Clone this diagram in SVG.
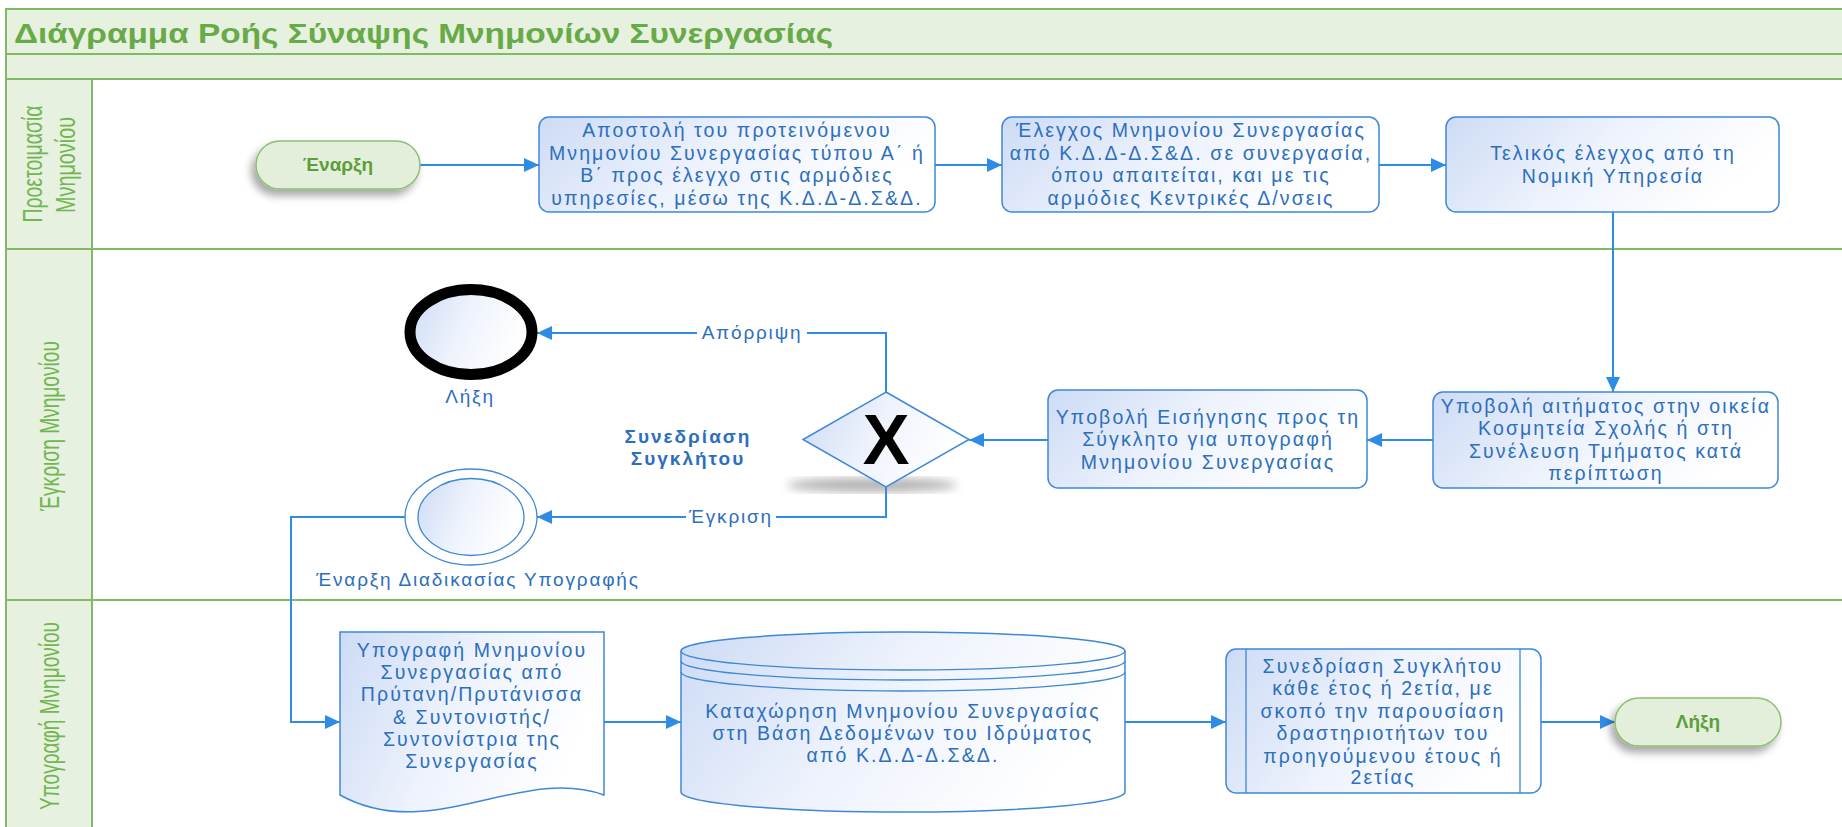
<svg xmlns="http://www.w3.org/2000/svg" width="1842" height="827" viewBox="0 0 1842 827">
<style>
.frame{fill:none;stroke:#82b866;stroke-width:2}
.title{font-family:"Liberation Sans",Arial,sans-serif;font-weight:bold;font-size:28px;fill:#67aa47}
.lane{font-family:"Liberation Sans",Arial,sans-serif;font-size:27px;fill:#72b551}
.box{fill:url(#boxg);stroke:#3f88d6;stroke-width:1.5}
.t{font-family:"Liberation Sans",Arial,sans-serif;font-size:19.5px;fill:#2c6fbd;text-anchor:middle;letter-spacing:2.1px}
.tb{font-family:"Liberation Sans",Arial,sans-serif;font-size:19px;font-weight:bold;fill:#2c6fbd;text-anchor:middle;letter-spacing:2px}
.term{fill:#e3efda;stroke:#8cbf72;stroke-width:1.5}
.termt{font-family:"Liberation Sans",Arial,sans-serif;font-size:19px;font-weight:bold;fill:#5c9d3c;text-anchor:middle}
.conn{fill:none;stroke:#2f8ce6;stroke-width:2}
.lbl{font-family:"Liberation Sans",Arial,sans-serif;font-size:19px;fill:#2c6fbd;text-anchor:middle;letter-spacing:1.8px}
</style>
<defs>
<linearGradient id="boxg" x1="0" y1="0" x2="1" y2="0.3">
<stop offset="0" stop-color="#ccdbf5"/>
<stop offset="0.5" stop-color="#edf2fc"/>
<stop offset="1" stop-color="#ffffff"/>
</linearGradient>
<filter id="sh" x="-20%" y="-30%" width="140%" height="180%">
<feGaussianBlur in="SourceAlpha" stdDeviation="4"/>
<feOffset dx="-4" dy="6" result="b"/>
<feComponentTransfer><feFuncA type="linear" slope="0.35"/></feComponentTransfer>
<feMerge><feMergeNode/><feMergeNode in="SourceGraphic"/></feMerge>
</filter>
<filter id="blur"><feGaussianBlur stdDeviation="5"/></filter>
<marker id="arr" markerUnits="userSpaceOnUse" markerWidth="16" markerHeight="14" refX="15" refY="7" orient="auto">
<path d="M0,0 L15,7 L0,14 z" fill="#2f8ce6"/>
</marker>
</defs>

<g id="pool">
<rect x="6" y="9" width="1850" height="45" fill="#e6f1df" stroke="#82b866" stroke-width="2"/>
<rect x="6" y="54" width="1850" height="25" fill="#e6f1df" stroke="#82b866" stroke-width="2"/>
<rect x="6" y="79" width="86" height="760" fill="#e6f1df" stroke="#82b866" stroke-width="2"/>
<rect x="6" y="9" width="1850" height="830" class="frame"/>
<line x1="6" y1="249" x2="1856" y2="249" class="frame"/>
<line x1="6" y1="600" x2="1856" y2="600" class="frame"/>
<text class="title" x="14" y="43" textLength="819" lengthAdjust="spacingAndGlyphs">Διάγραμμα Ροής Σύναψης Μνημονίων Συνεργασίας</text>
</g>

<g id="lane1-label">
<text class="lane" transform="translate(42,164) rotate(-90)" text-anchor="middle" textLength="117" lengthAdjust="spacingAndGlyphs">Προετοιμασία</text>
<text class="lane" transform="translate(75,165) rotate(-90)" text-anchor="middle" textLength="96" lengthAdjust="spacingAndGlyphs">Μνημονίου</text>
</g>
<g id="lane2-label">
<text class="lane" transform="translate(59,426) rotate(-90)" text-anchor="middle" textLength="170" lengthAdjust="spacingAndGlyphs">Έγκριση Μνημονίου</text>
</g>
<g id="lane3-label">
<text class="lane" transform="translate(59,716) rotate(-90)" text-anchor="middle" textLength="188" lengthAdjust="spacingAndGlyphs">Υπογραφή Μνημονίου</text>
</g>

<g id="connectors">
<path class="conn" d="M420,165 H539" marker-end="url(#arr)"/>
<path class="conn" d="M935,165 H1002" marker-end="url(#arr)"/>
<path class="conn" d="M1379,165 H1446" marker-end="url(#arr)"/>
<path class="conn" d="M1613,212 V392" marker-end="url(#arr)"/>
<path class="conn" d="M1433,440 H1367" marker-end="url(#arr)"/>
<path class="conn" d="M1048,440 H969" marker-end="url(#arr)"/>
<path class="conn" d="M886,392 V333 H537" marker-end="url(#arr)"/>
<path class="conn" d="M886,487 V517 H537" marker-end="url(#arr)"/>
<path class="conn" d="M405,517 H291 V722 H340" marker-end="url(#arr)"/>
<path class="conn" d="M604,722 H681" marker-end="url(#arr)"/>
<path class="conn" d="M1125,722 H1226" marker-end="url(#arr)"/>
<path class="conn" d="M1541,722 H1615" marker-end="url(#arr)"/>
<rect x="697" y="322" width="110" height="22" fill="#ffffff"/>
<text class="lbl" x="752" y="339">Απόρριψη</text>
<rect x="686" y="506" width="90" height="22" fill="#ffffff"/>
<text class="lbl" x="731" y="523">Έγκριση</text>
</g>

<g id="start">
<rect x="256" y="141" width="164" height="48" rx="24" class="term" filter="url(#sh)"/>
<text class="termt" x="338" y="171">Έναρξη</text>
</g>

<g id="send">
<rect x="539" y="117" width="396" height="95" rx="10" class="box"/>
<text class="t" x="737" y="137">Αποστολή του προτεινόμενου</text>
<text class="t" x="737" y="160">Μνημονίου Συνεργασίας τύπου Α΄ ή</text>
<text class="t" x="737" y="182">Β΄ προς έλεγχο στις αρμόδιες</text>
<text class="t" x="737" y="205">υπηρεσίες, μέσω της Κ.Δ.Δ-Δ.Σ&amp;Δ.</text>
</g>

<g id="check">
<rect x="1002" y="117" width="377" height="95" rx="10" class="box"/>
<text class="t" x="1191" y="137">Έλεγχος Μνημονίου Συνεργασίας</text>
<text class="t" x="1191" y="160">από Κ.Δ.Δ-Δ.Σ&amp;Δ. σε συνεργασία,</text>
<text class="t" x="1191" y="182">όπου απαιτείται, και με τις</text>
<text class="t" x="1191" y="205">αρμόδιες Κεντρικές Δ/νσεις</text>
</g>

<g id="legal">
<rect x="1446" y="117" width="333" height="95" rx="10" class="box"/>
<text class="t" x="1613" y="160">Τελικός έλεγχος από τη</text>
<text class="t" x="1613" y="183">Νομική Υπηρεσία</text>
</g>

<g id="request">
<rect x="1433" y="392" width="345" height="96" rx="10" class="box"/>
<text class="t" x="1606" y="413">Υποβολή αιτήματος στην οικεία</text>
<text class="t" x="1606" y="435">Κοσμητεία Σχολής ή στη</text>
<text class="t" x="1606" y="458">Συνέλευση Τμήματος κατά</text>
<text class="t" x="1606" y="480">περίπτωση</text>
</g>

<g id="proposal">
<rect x="1048" y="390" width="319" height="98" rx="10" class="box"/>
<text class="t" x="1208" y="424">Υποβολή Εισήγησης προς τη</text>
<text class="t" x="1208" y="446">Σύγκλητο για υπογραφή</text>
<text class="t" x="1208" y="469">Μνημονίου Συνεργασίας</text>
</g>

<g id="gateway">
<ellipse cx="872" cy="485" rx="85" ry="7" fill="#808080" opacity="0.6" filter="url(#blur)"/>
<path d="M886,392 L969,439.5 L886,487 L803,439.5 z" fill="url(#boxg)" stroke="#3f88d6" stroke-width="1.5"/>
<text x="886" y="464" font-family="Liberation Sans, Arial, sans-serif" font-size="70" font-weight="bold" fill="#000000" text-anchor="middle">X</text>
<text class="tb" x="688" y="443">Συνεδρίαση</text>
<text class="tb" x="688" y="465">Συγκλήτου</text>
</g>

<g id="end-reject">
<ellipse cx="471" cy="332" rx="61" ry="42.5" fill="url(#boxg)" stroke="#000000" stroke-width="11"/>
<text class="lbl" x="470" y="403">Λήξη</text>
</g>

<g id="start-sign">
<ellipse cx="471" cy="517" rx="66" ry="48" fill="#ffffff" stroke="#3f88d6" stroke-width="1.3"/>
<ellipse cx="471" cy="517" rx="53" ry="38.5" fill="url(#boxg)" stroke="#3f88d6" stroke-width="1.3"/>
<text class="lbl" x="478" y="586">Έναρξη Διαδικασίας Υπογραφής</text>
</g>

<g id="sign">
<path d="M340,632 H604 V795 C520,765 430,845 340,795 z" class="box"/>
<text class="t" x="472" y="657">Υπογραφή Μνημονίου</text>
<text class="t" x="472" y="679">Συνεργασίας από</text>
<text class="t" x="472" y="701">Πρύτανη/Πρυτάνισσα</text>
<text class="t" x="472" y="724">&amp; Συντονιστής/</text>
<text class="t" x="472" y="746">Συντονίστρια της</text>
<text class="t" x="472" y="768">Συνεργασίας</text>
</g>

<g id="register">
<path d="M681,651 V792 A222,20 0 0 0 1125,792 V651 A222,19 0 0 0 681,651 z" class="box"/>
<path d="M681,651 A222,19 0 0 0 1125,651" fill="none" stroke="#3f88d6" stroke-width="1.3"/>
<path d="M681,661 A222,19 0 0 0 1125,661" fill="none" stroke="#3f88d6" stroke-width="1.3"/>
<path d="M681,672 A222,19 0 0 0 1125,672" fill="none" stroke="#3f88d6" stroke-width="1.3"/>
<text class="t" x="903" y="718">Καταχώρηση Μνημονίου Συνεργασίας</text>
<text class="t" x="903" y="740">στη Βάση Δεδομένων του Ιδρύματος</text>
<text class="t" x="903" y="762">από Κ.Δ.Δ-Δ.Σ&amp;Δ.</text>
</g>

<g id="senate">
<rect x="1226" y="649" width="315" height="144" rx="10" class="box"/>
<line x1="1246" y1="649" x2="1246" y2="793" stroke="#3f88d6" stroke-width="1.3"/>
<line x1="1520" y1="649" x2="1520" y2="793" stroke="#3f88d6" stroke-width="1.3"/>
<text class="t" x="1383" y="673">Συνεδρίαση Συγκλήτου</text>
<text class="t" x="1383" y="695">κάθε έτος ή 2ετία, με</text>
<text class="t" x="1383" y="718">σκοπό την παρουσίαση</text>
<text class="t" x="1383" y="740">δραστηριοτήτων του</text>
<text class="t" x="1383" y="763">προηγούμενου έτους ή</text>
<text class="t" x="1383" y="784">2ετίας</text>
</g>

<g id="end">
<rect x="1615" y="698" width="166" height="48" rx="24" class="term" filter="url(#sh)"/>
<text class="termt" x="1698" y="728">Λήξη</text>
</g>
</svg>
